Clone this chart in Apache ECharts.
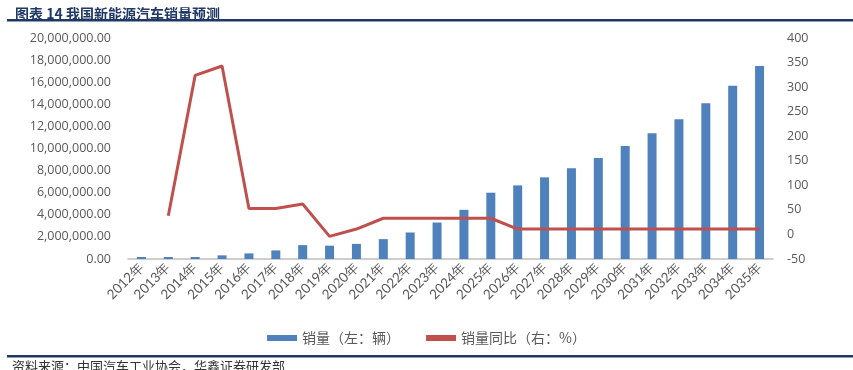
<!DOCTYPE html>
<html>
<head>
<meta charset="utf-8">
<script src="https://cdn.jsdelivr.net/npm/echarts@6/dist/echarts.min.js"></script>
<style>
html,body{margin:0;padding:0;background:#fff;}
#c{width:853px;height:370px;}
</style>
</head>
<body>
<div id="c"></div>
<script>
var categories = ['2012年','2013年','2014年','2015年','2016年','2017年','2018年','2019年','2020年','2021年','2022年','2023年','2024年','2025年','2026年','2027年','2028年','2029年','2030年','2031年','2032年','2033年','2034年','2035年'];
var salesValues = [12791,17642,74763,331092,507000,777000,1256000,1206000,1367000,1800000,2400000,3300000,4450000,6000000,6660000,7390000,8210000,9140000,10230000,11380000,12640000,14090000,15680000,17470000];
var growthValues = [null,37.9,324,343,53,53,62,-4,11,33,33,33,33,33,11,11,11,11,11,11,11,11,11,11];
var leftTicks = {min:0, max:20000000, interval:2000000};
var rightTicks = {min:-50, max:400, interval:50};

function fmtLeft(v){
  return Number(v).toLocaleString('en-US',{minimumFractionDigits:2,maximumFractionDigits:2});
}
var chart = echarts.init(document.getElementById('c'));
var labelColor = '#595959';
chart.setOption({
  animation:false,
  backgroundColor:'#fff',
  title:{
    text:'图表 14 我国新能源汽车销量预测',
    left:10, top:2,
    textStyle:{fontSize:14,fontWeight:'bold',color:'#1F3864',fontFamily:'Noto Sans CJK SC'}
  },
  grid:{left:128,right:80,top:38,bottom:111,containLabel:false},
  legend:{
    data:[{name:'销量（左：辆）',icon:'rect'},{name:'销量同比（右：%）',icon:'rect'}],
    left:'center', top:326, itemGap:26,
    itemWidth:30, itemHeight:6,
    textStyle:{fontSize:14,color:labelColor,fontFamily:'Noto Sans CJK SC'}
  },
  xAxis:{
    type:'category', data:categories,
    axisLine:{lineStyle:{color:'#BFBFBF',width:1.5}},
    axisTick:{show:false},
    axisLabel:{rotate:45,interval:0,fontSize:13.5,color:labelColor,margin:6,fontFamily:'Lato'}
  },
  yAxis:[
    {type:'value',min:leftTicks.min,max:leftTicks.max,interval:leftTicks.interval,
     splitLine:{show:false},axisLine:{show:false},axisTick:{show:false},
     axisLabel:{formatter:fmtLeft,fontSize:12.5,color:labelColor,margin:17,fontFamily:'Open Sans'}},
    {type:'value',min:rightTicks.min,max:rightTicks.max,interval:rightTicks.interval,
     splitLine:{show:false},axisLine:{show:false},axisTick:{show:false},
     axisLabel:{fontSize:12.5,color:labelColor,margin:14,fontFamily:'Open Sans'}}
  ],
  series:[
    {name:'销量（左：辆）',type:'bar',data:salesValues,yAxisIndex:0,barWidth:9,barMinHeight:2,
     itemStyle:{color:'#4F81BD'}},
    {name:'销量同比（右：%）',type:'line',data:growthValues,yAxisIndex:1,
     symbol:'none',connectNulls:false,
     lineStyle:{color:'#C0504D',width:3},itemStyle:{color:'#C0504D'}}
  ],
  graphic:[
    {type:'rect',shape:{x:7,y:19,width:846,height:2.5},style:{fill:'#1F3864'}},
    {type:'rect',shape:{x:7,y:355,width:846,height:2.5},style:{fill:'#1F3864'}},
    {type:'text',left:12,top:360,style:{text:'资料来源：中国汽车工业协会，华鑫证券研发部',fontSize:13,fill:'#333',fontFamily:'Noto Sans CJK SC'}}
  ]
});
</script>
</body>
</html>
